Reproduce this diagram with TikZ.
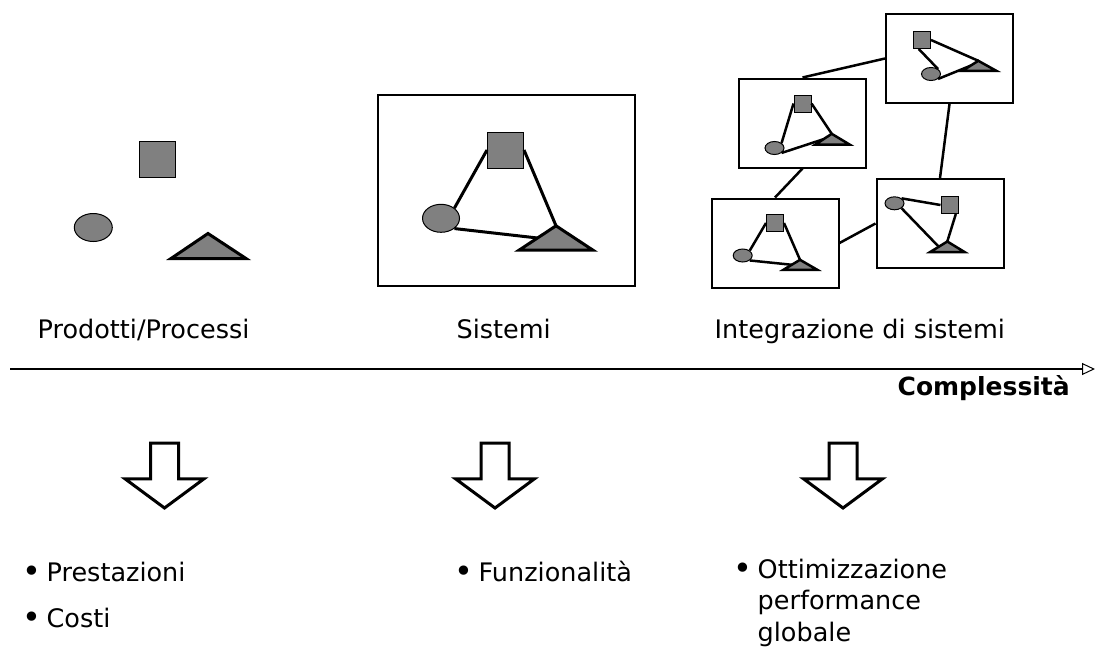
\documentclass[tikz,border=0pt]{standalone}
\usepackage{fontspec}
\setmainfont{DejaVu Sans}
\usetikzlibrary{shapes.geometric,arrows.meta,calc}
\newcommand{\bul}{\makebox[24pt][l]{\fontsize{32}{30}\selectfont\raisebox{-1.5pt}{•}}}

\tikzset{
  sq/.style={draw, fill=gray, line width=1pt, inner sep=0, minimum size=#1},
  ell/.style 2 args={draw, ellipse, fill=gray, line width=1pt, inner sep=0, minimum width=#1, minimum height=#2},
  tri/.style={draw, fill=gray, line width=2.5pt, line join=miter},
  link/.style={line width=2.5pt},
  frame/.style 2 args={draw, line width=2pt, inner sep=0, minimum width=#1, minimum height=#2},
  lbl/.style={font=\fontsize{25.5}{30}\selectfont, inner sep=0},
  hollow/.style={line width=3pt, line join=miter},
  axis/.style={line width=1.6pt, -{Triangle[open, length=13pt, width=12pt, line width=1pt]}},
}

\begin{document}
\begin{tikzpicture}[x=1pt, y=-1pt]
\useasboundingbox (0,0) rectangle (1097,648);

% prodotti
\node[sq=36] (qA) at (157.5,159) {};
\node[ell={38}{28}] (oA) at (93.3,227.5) {};
\coordinate (tAa) at (208,233.5);
\coordinate (tAl) at (171,258.5);
\coordinate (tAr) at (246,258.5);
\draw[tri, line width=3pt] (tAl) -- (tAa) -- (tAr) -- cycle;

% sistemi
\node[frame={256.7}{191}] (fB) at (506.3,190.5) {};
\node[sq=36] (qB) at (505.5,150) {};
\node[ell={37}{28}] (oB) at (441,218.3) {};
\coordinate (tBa) at (556,225.8);
\coordinate (tBl) at (519,250.2);
\coordinate (tBr) at (593,250.2);
\draw[link, line width=3pt] (qB.west) -- (oB.north east);
\draw[link, line width=3pt] (qB.east) -- (tBa);
\draw[link, line width=3pt] (oB.south east) -- ($(tBa)!0.5!(tBl)$);
\draw[tri, line width=3pt] (tBl) -- (tBa) -- (tBr) -- cycle;

% integrazione
\node[frame={127}{89}] (fUL) at (802.5,123) {};
\node[frame={127}{89}] (fTR) at (949.5,58.5) {};
\node[frame={127}{89}] (fLL) at (775,243) {};
\node[frame={127}{89}] (fLR) at (940,223.5) {};
\draw[link] (fUL.north) -- (fTR.west);
\draw[link] (fTR.south) -- (fLR.north);
\draw[link] (fUL.south) -- (fLL.north);
\draw[link] (fLL.east) -- (fLR.west);

\node[sq=17] (qUL) at (802.5,103.5) {};
\node[ell={19}{13}] (oUL) at (774.5,148) {};
\coordinate (tULa) at (831.7,133.8);
\coordinate (tULl) at (815.5,144.5);
\coordinate (tULr) at (849.5,144.5);
\draw[link] (qUL.west) -- (oUL.north east);
\draw[link] (qUL.east) -- (tULa);
\draw[link] (oUL.south east) -- ($(tULa)!0.5!(tULl)$);
\draw[tri] (tULl) -- (tULa) -- (tULr) -- cycle;

\node[sq=17] (qTR) at (922,40) {};
\node[ell={19}{13}] (oTR) at (931,74) {};
\coordinate (tTRa) at (978.3,60.8);
\coordinate (tTRl) at (962.5,70.75);
\coordinate (tTRr) at (996.2,70.75);
\draw[link] (qTR.250) -- (oTR.north east);
\draw[link] (qTR.east) -- (tTRa);
\draw[link] (oTR.south east) -- ($(tTRa)!0.5!(tTRl)$);
\draw[tri] (tTRl) -- (tTRa) -- (tTRr) -- cycle;

\node[sq=17] (qLL) at (775,223) {};
\node[ell={19}{13}] (oLL) at (742.7,255.5) {};
\coordinate (tLLa) at (800,259.8);
\coordinate (tLLl) at (783.5,269.75);
\coordinate (tLLr) at (817.2,269.75);
\draw[link] (qLL.west) -- (oLL.north east);
\draw[link] (qLL.east) -- (tLLa);
\draw[link] (oLL.south east) -- ($(tLLa)!0.5!(tLLl)$);
\draw[tri] (tLLl) -- (tLLa) -- (tLLr) -- cycle;

\node[sq=17] (qLR) at (949.5,205) {};
\node[ell={19}{13}] (oLR) at (894.5,203.3) {};
\coordinate (tLRa) at (947.3,241.5);
\coordinate (tLRl) at (930.2,252);
\coordinate (tLRr) at (964.5,252);
\draw[link] (oLR.north east) -- (qLR.west);
\draw[link] (qLR.305) -- (tLRa);
\draw[link] (oLR.south east) -- ($(tLRa)!0.5!(tLRl)$);
\draw[tri] (tLRl) -- (tLRa) -- (tLRr) -- cycle;

% etichette
\node[lbl, anchor=base west] (lPP) at (37.5,338) {Prodotti/Processi};
\node[lbl, anchor=base west] (lS) at (456.4,338) {Sistemi};
\node[lbl, anchor=base west] (lI) at (714.5,338) {Integrazione di sistemi};

% asse
\coordinate (ax0) at (10,369);
\coordinate (ax1) at (1095,369);
\draw[axis] (ax0) -- (ax1);
\node[lbl, anchor=base east, font=\fontsize{25}{30}\selectfont\bfseries] (lC) at (1070,395) {Complessità};

% frecce
\draw[hollow] (150.5,443.2) -- (178.5,443.2) -- (178.5,478.8) -- (204,478.8) -- (164.5,508) -- (125,478.8) -- (150.5,478.8) -- cycle;
\draw[hollow] (481,443.2) -- (509,443.2) -- (509,478.8) -- (534.5,478.8) -- (495,508) -- (455.5,478.8) -- (481,478.8) -- cycle;
\draw[hollow] (829,443.2) -- (857,443.2) -- (857,478.8) -- (882.5,478.8) -- (843,508) -- (803.5,478.8) -- (829,478.8) -- cycle;

% elenchi
\node[lbl, anchor=base west] (iP) at (22.5,581) {\bul Prestazioni};
\node[lbl, anchor=base west] (iC) at (22.5,627) {\bul Costi};
\node[lbl, anchor=base west] (iF) at (454.5,581) {\bul Funzionalità};
\node[lbl, anchor=base west] (iO) at (733.5,578) {\bul Ottimizzazione};
\node[lbl, anchor=base west] (iO2) at (757.5,609.5) {performance};
\node[lbl, anchor=base west] (iO3) at (757.5,641) {globale};

\end{tikzpicture}
\end{document}
